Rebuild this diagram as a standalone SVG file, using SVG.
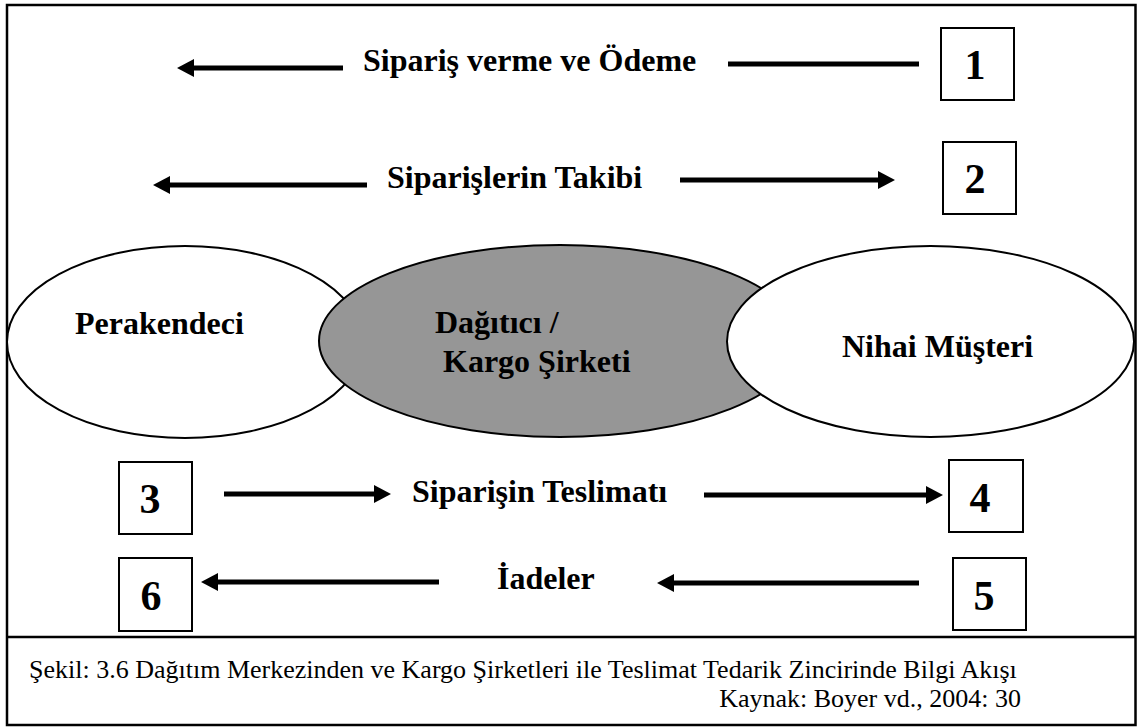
<svg xmlns="http://www.w3.org/2000/svg" width="1138" height="727" viewBox="0 0 1138 727">
<style>
.frame{fill:#fff;stroke:#000;stroke-width:2.5}
.box{fill:#fff;stroke:#000;stroke-width:2}
.ell{stroke:#000;stroke-width:2}
.lbl{font-family:"Liberation Serif","Times New Roman",serif;font-weight:bold;font-size:32px;fill:#000}
.num{font-family:"Liberation Serif","Times New Roman",serif;font-weight:bold;font-size:42px;fill:#000;text-anchor:middle}
.cap{font-family:"Liberation Serif","Times New Roman",serif;font-size:26px;fill:#000}
.conn line{stroke:#000;stroke-width:5}
</style>
<defs>
<marker id="ah" viewBox="0 0 17 18" refX="0" refY="9" markerWidth="17" markerHeight="18" markerUnits="userSpaceOnUse" orient="auto">
<path d="M0,0 L17,9 L0,18 z" fill="#000"/>
</marker>
</defs>
<rect class="frame" x="7" y="5" width="1128.5" height="720"/>
<line x1="7" y1="637" x2="1135.5" y2="637" stroke="#000" stroke-width="2.5"/>

<g id="perakendeci">
<ellipse class="ell" cx="185" cy="342" rx="178" ry="96" fill="#fff"/>
<text class="lbl" x="75" y="334">Perakendeci</text>
</g>
<g id="dagitici">
<ellipse class="ell" cx="560" cy="341" rx="241" ry="96" fill="#969696"/>
<text class="lbl" x="435" y="333">Dağıtıcı /</text>
<text class="lbl" x="443" y="372">Kargo Şirketi</text>
</g>
<g id="nihai">
<ellipse class="ell" cx="930.5" cy="341.5" rx="203.5" ry="95.5" fill="#fff"/>
<text class="lbl" x="842" y="357">Nihai Müşteri</text>
</g>

<g id="box1"><rect class="box" x="941" y="28" width="73" height="72"/><text class="num" x="975" y="79">1</text></g>
<g id="box2"><rect class="box" x="943" y="142" width="73" height="72"/><text class="num" x="975" y="193">2</text></g>
<g id="box3"><rect class="box" x="119" y="462" width="73" height="72"/><text class="num" x="150" y="513">3</text></g>
<g id="box4"><rect class="box" x="949" y="460" width="74" height="72"/><text class="num" x="980" y="512">4</text></g>
<g id="box5"><rect class="box" x="953" y="558" width="73" height="72"/><text class="num" x="984" y="610">5</text></g>
<g id="box6"><rect class="box" x="119" y="558" width="73" height="73"/><text class="num" x="151" y="610">6</text></g>

<g id="labels">
<text class="lbl" x="363" y="71">Sipariş verme ve Ödeme</text>
<text class="lbl" x="387" y="188">Siparişlerin Takibi</text>
<text class="lbl" x="412" y="502">Siparişin Teslimatı</text>
<text class="lbl" x="497" y="589">İadeler</text>
</g>

<g id="connectors" class="conn">
<line x1="343" y1="68" x2="194" y2="68" marker-end="url(#ah)"/>
<line x1="728" y1="64" x2="919" y2="64"/>
<line x1="367" y1="185" x2="170" y2="185" marker-end="url(#ah)"/>
<line x1="680" y1="180" x2="878" y2="180" marker-end="url(#ah)"/>
<line x1="224" y1="494" x2="374" y2="494" marker-end="url(#ah)"/>
<line x1="704" y1="495" x2="926" y2="495" marker-end="url(#ah)"/>
<line x1="919" y1="583" x2="674" y2="583" marker-end="url(#ah)"/>
<line x1="439" y1="582" x2="218" y2="582" marker-end="url(#ah)"/>
</g>

<g id="caption">
<text class="cap" x="29" y="678">Şekil: 3.6 Dağıtım Merkezinden ve Kargo Şirketleri ile Teslimat Tedarik Zincirinde Bilgi Akışı</text>
<text class="cap" x="1021" y="707" text-anchor="end">Kaynak: Boyer vd., 2004: 30</text>
</g>
</svg>
